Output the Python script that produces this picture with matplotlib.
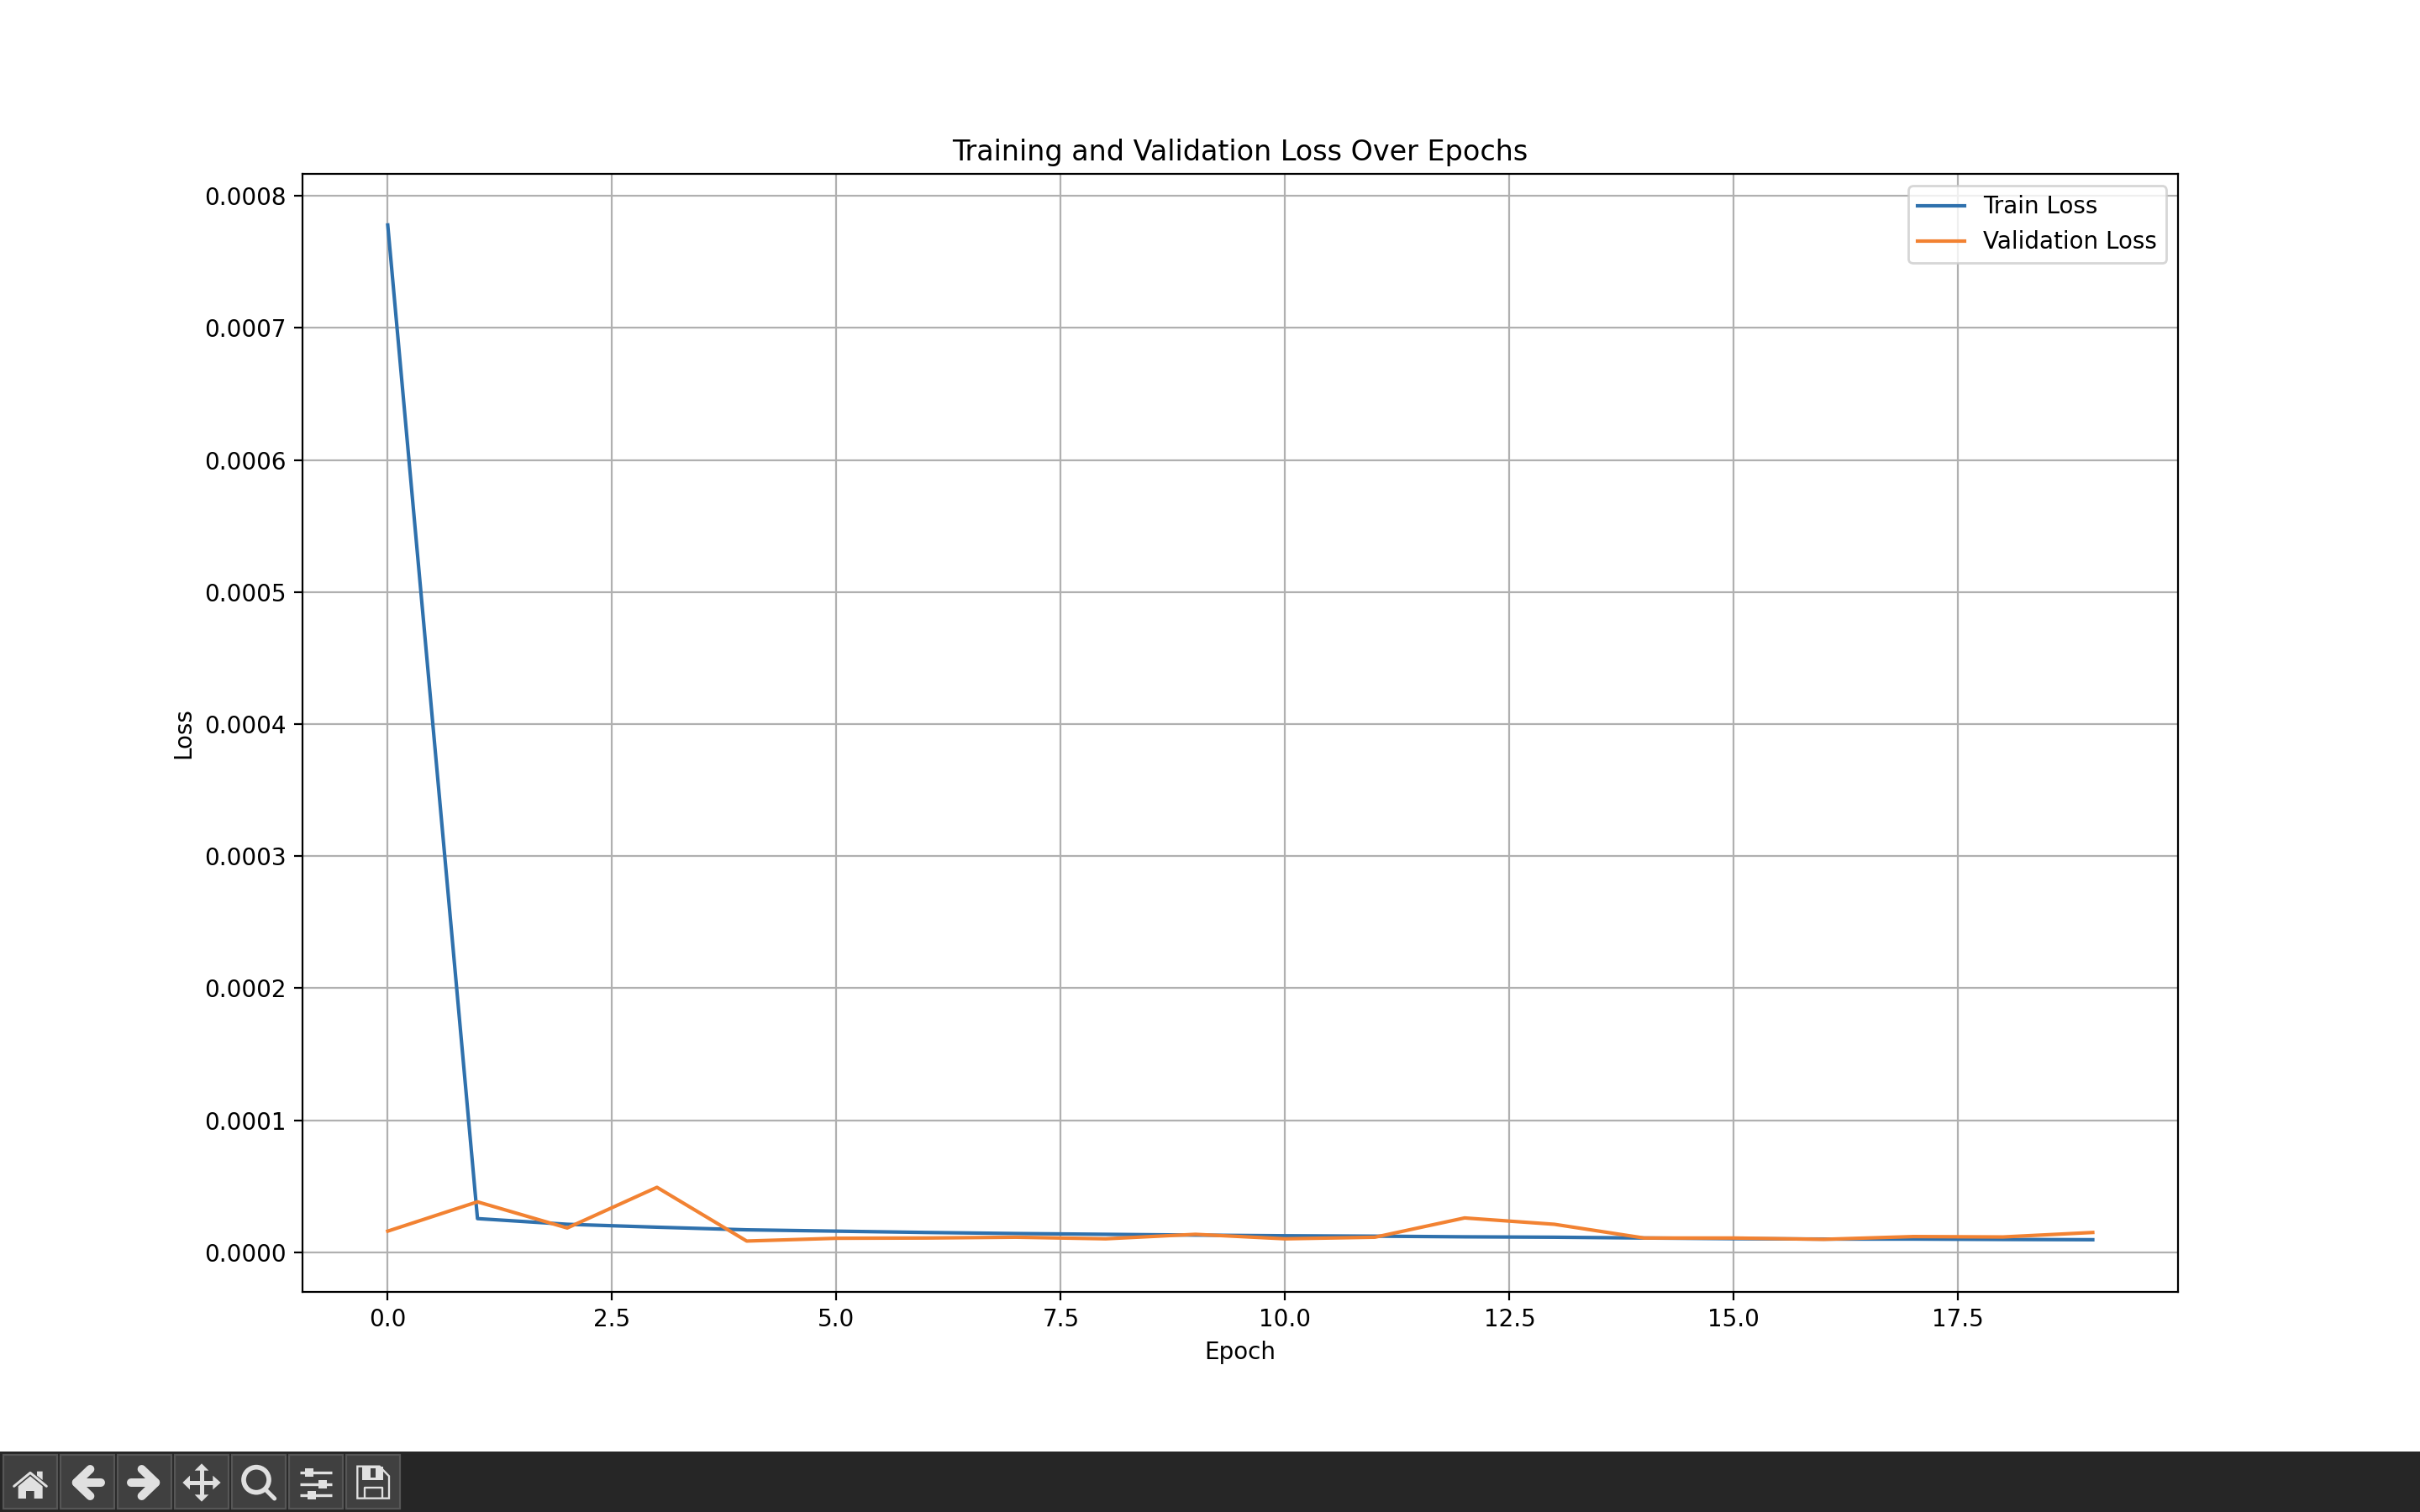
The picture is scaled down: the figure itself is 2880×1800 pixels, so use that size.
import matplotlib
matplotlib.use("Agg")
import matplotlib.pyplot as plt
from matplotlib.patches import Rectangle, Polygon, Circle

epochs = list(range(20))
train_loss = [7.78e-4, 2.55e-5, 2.12e-5, 1.90e-5, 1.70e-5, 1.60e-5, 1.50e-5, 1.42e-5, 1.36e-5, 1.30e-5,
              1.25e-5, 1.22e-5, 1.17e-5, 1.14e-5, 1.08e-5, 1.03e-5, 1.00e-5, 1.00e-5, 0.97e-5, 0.95e-5]
val_loss = [1.60e-5, 3.82e-5, 1.84e-5, 4.92e-5, 0.85e-5, 1.06e-5, 1.08e-5, 1.14e-5, 1.02e-5, 1.36e-5,
            1.02e-5, 1.14e-5, 2.60e-5, 2.12e-5, 1.08e-5, 1.08e-5, 0.98e-5, 1.19e-5, 1.16e-5, 1.50e-5]

fig = plt.figure(figsize=(14.4, 9), dpi=200)
ax = fig.add_axes([0.125, 262.08 / 1800, 0.775, 1330.56 / 1800])
ax.plot(epochs, train_loss, color="#2f71ad", label="Train Loss")
ax.plot(epochs, val_loss, color="#f28232", label="Validation Loss")
ax.set_xlabel("Epoch")
ax.set_ylabel("Loss")
ax.set_title("Training and Validation Loss Over Epochs")
ax.legend()
ax.grid(True)

# the window toolbar along the bottom, in units of 1/3 pixel
bar = fig.add_axes([0, 0, 1, 100 / 1800])
bar.set_xlim(0, 8640)
bar.set_ylim(300, 0)
bar.axis("off")
bar.add_patch(Rectangle((0, 84), 8640, 216, fc="#262626", ec="none"))
for left in [13, 217, 421, 625, 829, 1033, 1237]:
    bar.add_patch(Rectangle((left, 97), 190, 190, fc="#404040", ec="#565656", lw=0.8))

icon = "#e0e0e0"


def stroke(xs, ys, width, cap="round"):
    bar.plot(xs, ys, color=icon, lw=width * 0.12, solid_capstyle=cap, solid_joinstyle="round")


def fill(points, color=icon):
    bar.add_patch(Polygon(points, closed=True, fc=color, ec="none"))


# home
stroke([50, 108, 166], [208, 160, 208], 9)
fill([(65, 208), (108, 172), (152, 208), (152, 252), (122, 252), (122, 225), (93, 225), (93, 252), (65, 252)])
fill([(132, 155), (152, 155), (152, 186), (132, 170)])

# back and forward
stroke([360, 272], [195, 195], 30)
stroke([322, 272, 322], [147, 195, 243], 30)
stroke([468, 556], [195, 195], 30)
stroke([506, 556, 506], [147, 195, 243], 30)

# pan
stroke([720, 720], [140, 250], 15, "butt")
stroke([665, 775], [195, 195], 15, "butt")
fill([(695, 152), (720, 127), (745, 152)])
fill([(695, 238), (720, 263), (745, 238)])
fill([(652, 195), (678, 170), (678, 220)])
fill([(788, 195), (760, 170), (760, 220)])

# zoom
bar.add_patch(Circle((915, 185), 45, fc="none", ec=icon, lw=17 * 0.12))
stroke([950, 980], [222, 252], 15)

# sliders
for y, x0 in [(160, 1090), (200, 1138), (239, 1099)]:
    stroke([1070, 1186], [y, y], 10, "butt")
    bar.add_patch(Rectangle((x0, y - 15), 29, 30, fc=icon, ec="none"))

# save
bar.add_patch(Polygon([(1276, 137), (1355, 137), (1389, 172), (1389, 251), (1276, 251)],
                      closed=True, fc="none", ec=icon, lw=7 * 0.12))
fill([(1293, 137), (1368, 137), (1368, 185), (1293, 185)])
fill([(1322, 145), (1342, 145), (1342, 178), (1322, 178)], "#404040")
stroke([1301, 1301, 1365, 1365], [251, 212, 212, 251], 7, "butt")

fig.savefig("out.png", dpi=200)
